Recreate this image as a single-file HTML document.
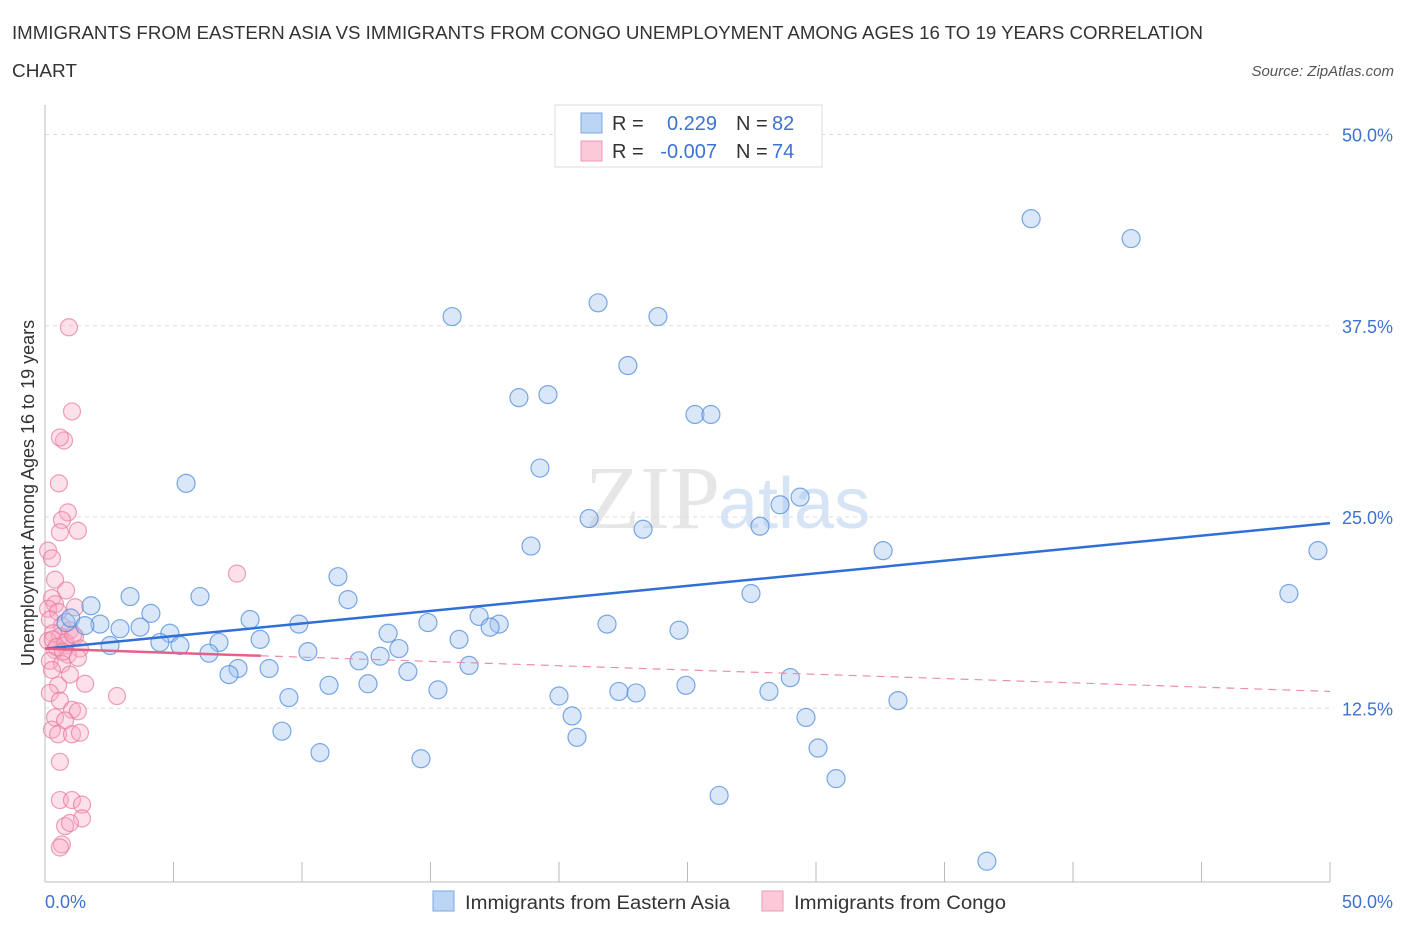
<!DOCTYPE html>
<html><head><meta charset="utf-8"><style>
body{margin:0;background:#fff;font-family:"Liberation Sans",sans-serif}
</style></head><body>
<svg width="1406" height="930" xmlns="http://www.w3.org/2000/svg" font-family="Liberation Sans, sans-serif">
<text x="12" y="39" font-size="18" fill="#333" textLength="1191" lengthAdjust="spacingAndGlyphs">IMMIGRANTS FROM EASTERN ASIA VS IMMIGRANTS FROM CONGO UNEMPLOYMENT AMONG AGES 16 TO 19 YEARS CORRELATION</text>
<text x="12" y="77" font-size="18" fill="#333" textLength="65" lengthAdjust="spacingAndGlyphs">CHART</text>
<text x="1394" y="76" font-size="15" fill="#555" text-anchor="end" font-style="italic">Source: ZipAtlas.com</text>
<text x="720" y="528" font-size="90" fill="#e6e6e6" text-anchor="end" font-family="Liberation Serif, serif">ZIP</text>
<text x="718" y="528" font-size="72" fill="#d6e4f5">atlas</text>
<g id="grid"></g>
<g id="axes"></g>
<g id="pts"></g>
<g id="trend"></g>
<text transform="translate(34,493) rotate(-90)" font-size="18" fill="#333" text-anchor="middle">Unemployment Among Ages 16 to 19 years</text>
<g>
<rect x="555" y="105" width="267" height="62" fill="#fff" stroke="#ddd"/>
<rect x="581" y="113" width="21" height="20" fill="#bcd5f5" stroke="#7aa8e6"/>
<rect x="581" y="141" width="21" height="20" fill="#fcc9d8" stroke="#ee9ab4"/>
<text x="612" y="130" font-size="20" fill="#333">R =</text><text x="717" y="130" font-size="20" fill="#3d73d0" text-anchor="end">0.229</text>
<text x="736" y="130" font-size="20" fill="#333">N =</text><text x="772" y="130" font-size="20" fill="#3d73d0">82</text>
<text x="612" y="158" font-size="20" fill="#333">R =</text><text x="717" y="158" font-size="20" fill="#3d73d0" text-anchor="end">-0.007</text>
<text x="736" y="158" font-size="20" fill="#333">N =</text><text x="772" y="158" font-size="20" fill="#3d73d0">74</text>
</g>
<g>
<rect x="433" y="891" width="21" height="20" fill="#bcd5f5" stroke="#7aa8e6"/>
<text x="465" y="909" font-size="19" fill="#333" textLength="265" lengthAdjust="spacingAndGlyphs">Immigrants from Eastern Asia</text>
<rect x="762" y="891" width="21" height="20" fill="#fcc9d8" stroke="#ee9ab4"/>
<text x="794" y="909" font-size="19" fill="#333" textLength="212" lengthAdjust="spacingAndGlyphs">Immigrants from Congo</text>
</g>
</svg>
<script>
const yTicks=[12.5,25,37.5,50];
const yTickLabels=["12.5%","25.0%","37.5%","50.0%"];
const xTicks=[0,5,10,15,20,25,30,35,40,45,50];
const blueX=[38.37,42.26,21.52,15.84,23.85,22.68,18.44,19.57,25.29,25.91,19.26,5.49,29.38,28.6,21.17,23.27,27.82,18.91,32.61,49.53,48.4,11.4,27.47,3.31,6.03,11.79,1.79,4.12,7.98,16.89,14.9,17.67,17.32,21.87,9.88,0.82,2.14,2.92,3.7,4.86,24.67,13.35,8.37,16.11,4.47,5.25,6.77,2.53,13.77,10.23,13.04,6.38,12.22,16.5,7.51,8.72,7.16,14.12,29.0,11.05,12.57,24.94,15.29,22.33,23.0,28.17,9.49,20.0,33.19,20.51,29.61,9.22,20.7,30.08,10.7,14.63,30.78,26.23,36.65,1.0,1.55];
const blueY=[44.5,43.2,39.0,38.1,38.1,34.9,32.8,33.0,31.7,31.7,28.2,27.2,26.3,25.8,24.9,24.2,24.4,23.1,22.8,22.8,20.0,21.1,20.0,19.8,19.8,19.6,19.2,18.7,18.3,18.5,18.1,18.0,17.8,18.0,18.0,18.1,18.0,17.7,17.8,17.4,17.6,17.4,17.0,17.0,16.8,16.6,16.8,16.6,16.4,16.2,15.9,16.1,15.6,15.3,15.1,15.1,14.7,14.9,14.5,14.0,14.1,14.0,13.7,13.6,13.5,13.6,13.2,13.3,13.0,12.0,11.9,11.0,10.6,9.9,9.6,9.2,7.9,6.8,2.5,18.4,17.9];
const pinkX=[0.93,1.05,0.74,0.58,0.54,0.89,0.66,1.28,0.58,0.12,0.27,7.47,0.39,0.82,0.27,0.39,1.17,0.12,0.51,0.19,0.66,0.97,0.31,0.58,1.17,0.12,0.78,0.39,1.36,0.89,0.19,0.66,1.28,0.27,0.97,0.51,1.56,0.19,0.58,1.05,1.28,0.39,0.78,0.27,0.51,1.05,1.36,0.58,0.58,1.05,1.44,1.44,0.78,0.97,0.66,0.58,2.8,0.3,0.8,1.1,0.45,0.7];
const pinkY=[37.4,31.9,30.0,30.2,27.2,25.3,24.8,24.1,24.0,22.8,22.3,21.3,20.9,20.2,19.7,19.3,19.1,19.0,18.8,18.3,17.9,17.6,17.4,17.2,17.2,16.9,16.6,16.3,16.4,16.0,15.6,15.4,15.8,15.0,14.7,14.0,14.1,13.5,13.0,12.4,12.3,11.9,11.7,11.1,10.8,10.8,10.9,9.0,6.5,6.5,6.2,5.3,4.8,5.0,3.6,3.4,13.3,17.0,16.8,17.3,16.5,16.2];
const blueTrend=[16.4,24.6];
const pinkTrend=[16.4,13.6];
const X0=45,X1=1330;
const xs=v=>X0+v/50*(X1-X0);
const ys=v=>899.5-v*15.3;
const NS="http://www.w3.org/2000/svg";
function mk(t,a,p){const e=document.createElementNS(NS,t);for(const k in a)e.setAttribute(k,a[k]);p.appendChild(e);return e;}
const grid=document.getElementById('grid'),axes=document.getElementById('axes');
yTicks.forEach((t,i)=>{
 const l=mk('line',{x1:X0,x2:X1,y1:ys(t),y2:ys(t),stroke:'#ddd','stroke-dasharray':'4,4'},grid);
 
 
 const tx=mk('text',{x:1393,y:ys(t)+7,'font-size':18,fill:'#3d73d0','text-anchor':'end'},axes);
 tx.textContent=yTickLabels[i];
 
 
});
const ax=mk('line',{x1:X0,x2:X1,y1:882,y2:882,stroke:'#bbb'},axes);


const ay=mk('line',{x1:X0,x2:X0,y1:105,y2:882,stroke:'#bbb'},axes);


xTicks.forEach(t=>{
 const l=mk('line',{x1:xs(t),x2:xs(t),y1:t==0?882:862,y2:882,stroke:'#bbb'},axes);
 
 
});
const xl0=mk('text',{x:45,y:908,'font-size':18,fill:'#3d73d0'},axes);xl0.textContent='0.0%';


const xl1=mk('text',{x:1393,y:908,'font-size':18,fill:'#3d73d0','text-anchor':'end'},axes);xl1.textContent='50.0%';


const pts=document.getElementById('pts');
pinkX.forEach((v,i)=>{
 const c=mk('circle',{cx:xs(v),cy:ys(pinkY[i]),r:8.5,fill:'rgba(248,170,195,0.35)',stroke:'rgba(232,120,155,0.7)','stroke-width':1.2},pts);
 
 
});
blueX.forEach((v,i)=>{
 const c=mk('circle',{cx:xs(v),cy:ys(blueY[i]),r:9,fill:'rgba(160,195,240,0.4)',stroke:'rgba(80,140,220,0.75)','stroke-width':1.2},pts);
 
 
});
const tr=document.getElementById('trend');
const bl=mk('line',{x1:xs(0),y1:ys(blueTrend[0]),x2:xs(50),y2:ys(blueTrend[1]),stroke:'#2f6fd6','stroke-width':2.5},tr);


const pm=v=>pinkTrend[0]+(pinkTrend[1]-pinkTrend[0])*v/50;
const ps=mk('line',{x1:xs(0),y1:ys(pm(0)),x2:xs(8.4),y2:ys(pm(8.4)),stroke:'#e5608a','stroke-width':2.5},tr);


const pd=mk('line',{x1:xs(8.4),y1:ys(pm(8.4)),x2:xs(50),y2:ys(pm(50)),stroke:'#eb8fab','stroke-width':1.2,'stroke-dasharray':'8,6'},tr);


</script>
</body></html>
